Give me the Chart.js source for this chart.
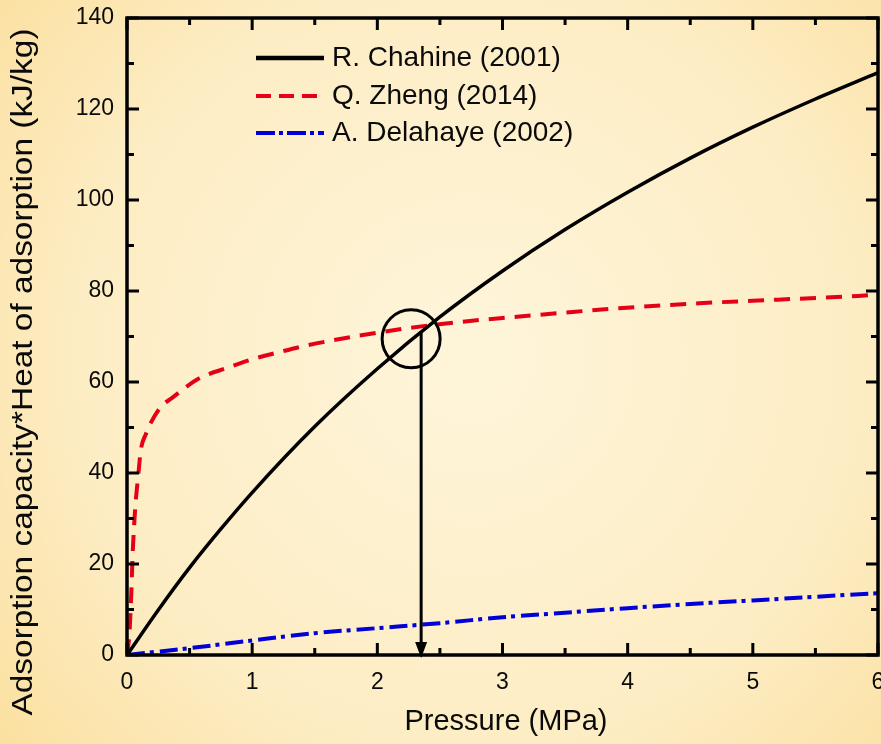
<!DOCTYPE html>
<html>
<head>
<meta charset="utf-8">
<script src="https://cdn.jsdelivr.net/npm/chart.js@4.4.1/dist/chart.umd.min.js"></script>
<style>
  html, body { margin: 0; padding: 0; background: #fdeec4; }
  canvas { display: block; }
</style>
</head>
<body>
<canvas id="chart" width="881" height="744"></canvas>
<script>
// Data (pressure in MPa, value in kJ/kg)
const chahineP = [0, 0.25, 0.5, 0.75, 1, 1.5, 2, 2.5, 3, 3.5, 4, 4.5, 5, 5.5, 6];
const chahineQ = [0, 9.9, 19.2, 27.7, 35.7, 50.2, 62.9, 74.3, 84.4, 93.5, 101.7, 109.2, 116, 122.2, 128];

const zhengP = [0, 0.02, 0.035, 0.045, 0.065, 0.09, 0.11, 0.15, 0.19, 0.27, 0.36, 0.57, 0.8, 1.0, 1.22, 1.43, 1.86, 2.26, 2.66, 3.1, 3.56, 3.93, 4.57, 5.2, 5.84, 6];
const zhengQ = [0, 5, 14, 22, 32, 39.5, 45, 48.5, 51, 54.5, 56.5, 60.7, 63.1, 65, 66.6, 68, 70.2, 71.9, 73.2, 74.3, 75.4, 76.2, 77.3, 78.1, 78.9, 79.2];

const delahayeP = [0, 0.2, 0.5, 1, 1.5, 2, 2.5, 3, 3.5, 4, 4.5, 5, 5.5, 6];
const delahayeQ = [0, 0.6, 1.5, 3.2, 4.8, 5.9, 7, 8.3, 9.3, 10.3, 11.2, 12, 12.8, 13.6];

const seriesNames = ["R. Chahine (2001)", "Q. Zheng (2014)", "A. Delahaye (2002)"];
const xTitle = "Pressure (MPa)";
const yTitle = "Adsorption capacity*Heat of adsorption (kJ/kg)";

// annotation: circled intersection and arrow down to the pressure axis
const circleAt = { x: 2.27, y: 69.5 };
const arrowAt = { x: 2.35, yFrom: 71.2, yTo: 0 };

const FONT = "'Liberation Sans', Arial, sans-serif";
const RED = "rgb(228,0,22)";
const BLUE = "rgb(0,0,215)";
const INK = "#0a0a0a";

function pts(xs, ys) {
  return xs.map((x, i) => ({ x, y: ys[i] }));
}

const background = {
  id: "background",
  beforeDraw(chart) {
    const { ctx, width, height } = chart;
    const g = ctx.createRadialGradient(470, 360, 40, 470, 360, 620);
    g.addColorStop(0, "#fef4d8");
    g.addColorStop(0.6, "#fdedc4");
    g.addColorStop(1, "#fbdf9e");
    ctx.save();
    ctx.fillStyle = g;
    ctx.fillRect(0, 0, width, height);
    ctx.restore();
  }
};

// frame with inward ticks on all four sides, plus annotation
const frameAndNotes = {
  id: "frameAndNotes",
  afterDatasetsDraw(chart) {
    const { ctx, chartArea: a, scales: { x, y } } = chart;
    ctx.save();
    ctx.strokeStyle = "#000";
    ctx.lineWidth = 3.5;
    ctx.strokeRect(a.left, a.top, a.right - a.left, a.bottom - a.top);

    ctx.lineWidth = 3;
    ctx.beginPath();
    for (let v = x.min; v <= x.max + 1e-9; v += 0.5) {
      const px = x.getPixelForValue(v);
      const len = Math.abs(v - Math.round(v)) < 1e-6 ? 12 : 7;
      ctx.moveTo(px, a.bottom); ctx.lineTo(px, a.bottom - len);
      ctx.moveTo(px, a.top); ctx.lineTo(px, a.top + len);
    }
    for (let v = y.min; v <= y.max + 1e-9; v += 10) {
      const py = y.getPixelForValue(v);
      const len = v % 20 === 0 ? 12 : 7;
      ctx.moveTo(a.left, py); ctx.lineTo(a.left + len, py);
      ctx.moveTo(a.right, py); ctx.lineTo(a.right - len, py);
    }
    ctx.stroke();

    // circle
    ctx.beginPath();
    ctx.arc(x.getPixelForValue(circleAt.x), y.getPixelForValue(circleAt.y), 29, 0, Math.PI * 2);
    ctx.stroke();

    // arrow
    const ax = x.getPixelForValue(arrowAt.x);
    const y0 = y.getPixelForValue(arrowAt.yFrom);
    const y1 = y.getPixelForValue(arrowAt.yTo) + 3;
    ctx.beginPath();
    ctx.moveTo(ax, y0);
    ctx.lineTo(ax, y1 - 12);
    ctx.stroke();
    ctx.fillStyle = "#000";
    ctx.beginPath();
    ctx.moveTo(ax - 6, y1 - 16);
    ctx.lineTo(ax + 6, y1 - 16);
    ctx.lineTo(ax, y1);
    ctx.closePath();
    ctx.fill();
    ctx.restore();
  },
  afterDraw(chart) {
    const { ctx } = chart;
    ctx.save();
    // legend
    const rows = [
      { y: 58, color: "#000", dash: [], width: 4.5 },
      { y: 96, color: RED, dash: [15, 8], width: 4 },
      { y: 133, color: BLUE, dash: [19, 4, 4, 4], width: 4 }
    ];
    rows.forEach((r, i) => {
      ctx.strokeStyle = r.color;
      ctx.lineWidth = r.width;
      ctx.setLineDash(r.dash);
      ctx.beginPath();
      ctx.moveTo(256, r.y);
      ctx.lineTo(324, r.y);
      ctx.stroke();
      ctx.setLineDash([]);
      ctx.fillStyle = INK;
      ctx.font = "28px " + FONT;
      ctx.textBaseline = "middle";
      ctx.textAlign = "left";
      ctx.fillText(seriesNames[i], 332, r.y);
    });

    // axis titles
    ctx.fillStyle = INK;
    ctx.font = "29px " + FONT;
    ctx.textAlign = "center";
    ctx.textBaseline = "middle";
    ctx.fillText(xTitle, 506, 722);

    ctx.save();
    ctx.translate(24, 372);
    ctx.rotate(-Math.PI / 2);
    ctx.font = "30px " + FONT;
    const w = ctx.measureText(yTitle).width;
    ctx.scale(687 / w, 1);
    ctx.fillText(yTitle, 0, 0);
    ctx.restore();
    ctx.restore();
  }
};

new Chart(document.getElementById("chart"), {
  type: "line",
  data: {
    datasets: [
      {
        label: seriesNames[0],
        data: pts(chahineP, chahineQ),
        borderColor: "#000",
        borderWidth: 3.5
      },
      {
        label: seriesNames[1],
        data: pts(zhengP, zhengQ),
        borderColor: RED,
        borderWidth: 4,
        borderDash: [16, 10]
      },
      {
        label: seriesNames[2],
        data: pts(delahayeP, delahayeQ),
        borderColor: BLUE,
        borderWidth: 4,
        borderDash: [18, 5, 4, 6]
      }
    ]
  },
  options: {
    responsive: false,
    animation: false,
    devicePixelRatio: 1,
    layout: { padding: { top: 18, right: 3, left: 0, bottom: 0 } },
    elements: {
      point: { radius: 0 },
      line: { cubicInterpolationMode: "monotone", fill: false }
    },
    plugins: {
      legend: { display: false },
      tooltip: { enabled: false }
    },
    scales: {
      x: {
        type: "linear",
        min: 0,
        max: 6,
        grid: { display: false, drawTicks: false },
        border: { display: false },
        ticks: {
          stepSize: 1,
          padding: 14,
          color: INK,
          font: { family: FONT, size: 23 },
          maxRotation: 0
        },
        afterFit(s) { s.height = 89; s.paddingLeft = 0; s.paddingRight = 0; }
      },
      y: {
        min: 0,
        max: 140,
        grid: { display: false, drawTicks: false },
        border: { display: false },
        ticks: {
          stepSize: 20,
          padding: 13,
          color: INK,
          font: { family: FONT, size: 23 }
        },
        afterFit(s) { s.width = 127; s.paddingTop = 0; s.paddingBottom = 0; }
      }
    }
  },
  plugins: [background, frameAndNotes]
});
</script>
</body>
</html>
